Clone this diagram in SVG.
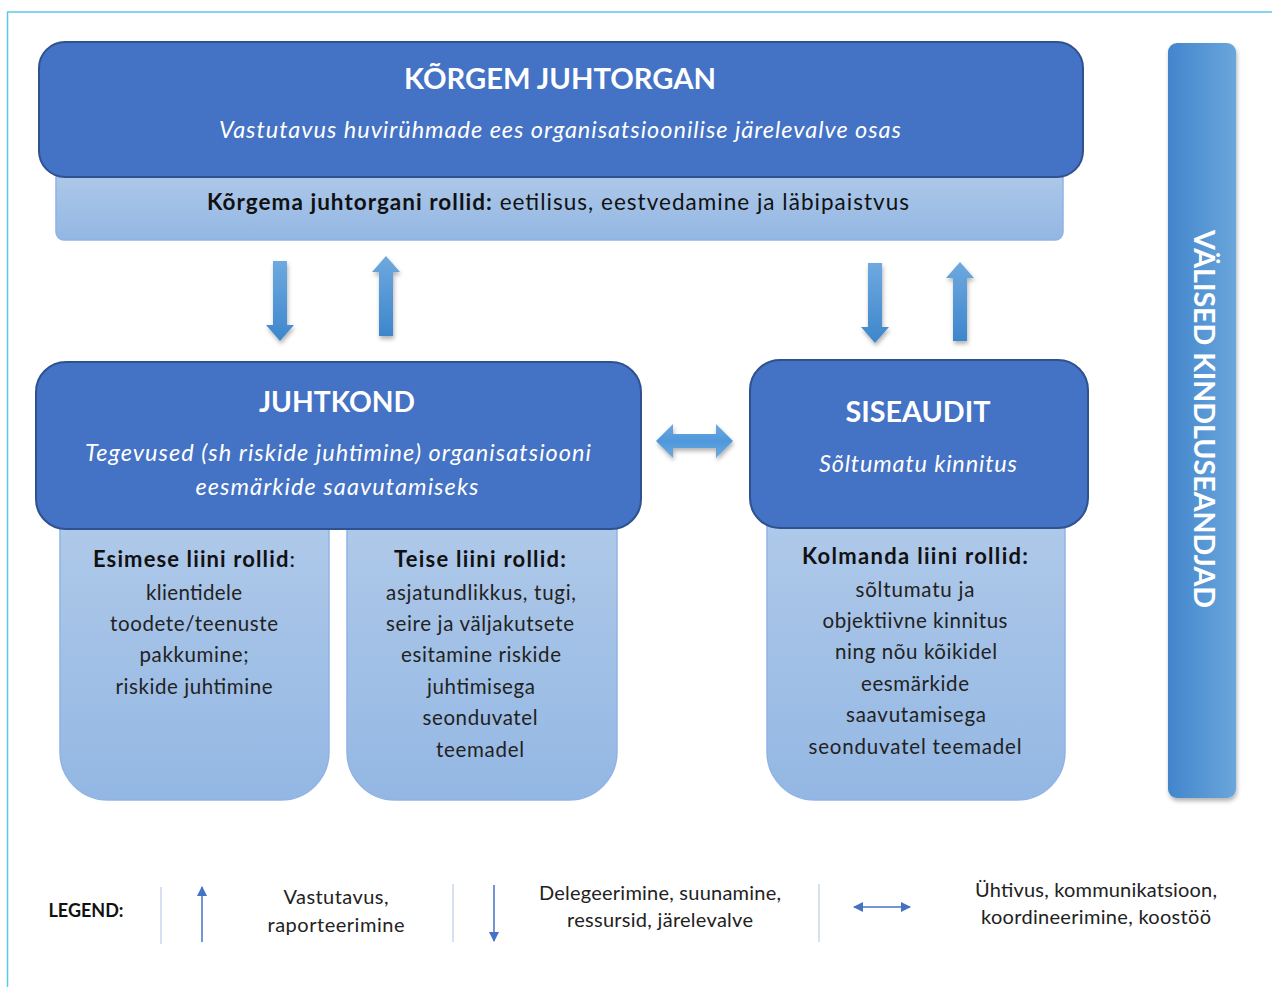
<svg xmlns="http://www.w3.org/2000/svg" width="1272" height="987" viewBox="0 0 1272 987">
<style>
text{font-family:Lato,"Open Sans","Liberation Sans",sans-serif;text-anchor:middle}
.dark{fill:#4472c4;stroke:#2f528f;stroke-width:2}
.card{fill:url(#cardG);stroke:#8fb4e3;stroke-width:1.5}
.h{font-size:28px;font-weight:bold;fill:#fff}
.it{font-size:23.5px;font-style:italic;fill:#fff}
.ch{font-size:22px;font-weight:bold;fill:#111}
.ct{font-size:20.5px;fill:#222}
.lg{font-size:20px;fill:#222}
.sep{stroke:#c9d6ea;stroke-width:1.5}
.bigArrow{fill:url(#arrG);filter:url(#sh)}
</style>
<defs>
<linearGradient id="cardG" x1="0" y1="0" x2="0" y2="1"><stop offset="0" stop-color="#afc9e9"/><stop offset="1" stop-color="#93b7e3"/></linearGradient>
<linearGradient id="arrG" x1="0" y1="0" x2="0" y2="1"><stop offset="0" stop-color="#6ea9df"/><stop offset="1" stop-color="#3d86cc"/></linearGradient>
<linearGradient id="arrH" x1="0" y1="0" x2="0" y2="1"><stop offset="0" stop-color="#6ea9df"/><stop offset="0.5" stop-color="#4e98db"/><stop offset="1" stop-color="#6ea9df"/></linearGradient>
<linearGradient id="barG" x1="0" y1="0" x2="1" y2="0"><stop offset="0" stop-color="#4285cc"/><stop offset="1" stop-color="#6aa6dc"/></linearGradient>
<filter id="sh" x="-30%" y="-10%" width="160%" height="130%"><feDropShadow dx="1" dy="3" stdDeviation="2" flood-color="#000" flood-opacity="0.3"/></filter>
<marker id="mh" viewBox="0 0 10 10" refX="9" refY="5" markerWidth="10" markerHeight="10" markerUnits="userSpaceOnUse" orient="auto-start-reverse"><path d="M0,0 L10,5 L0,10 z" fill="#4472c4"/></marker>
</defs>

<g id="frame">
<line x1="7" y1="12" x2="1272" y2="12" stroke="#5bc8f0" stroke-width="1.5"/>
<line x1="7.5" y1="12" x2="7.5" y2="987" stroke="#5bc8f0" stroke-width="1.5"/>
</g>

<g id="korgem">
<rect x="56" y="170" width="1007" height="70" rx="8" class="card"/>
<rect x="39" y="42" width="1044" height="135" rx="26" class="dark"/>
<text x="560" y="89" class="h" textLength="312" lengthAdjust="spacingAndGlyphs">KÕRGEM JUHTORGAN</text>
<text x="560" y="138" class="it" textLength="682" lengthAdjust="spacing">Vastutavus  huvirühmade  ees organisatsioonilise  järelevalve osas</text>
<text x="558" y="210" style="font-size:22.5px;fill:#111" textLength="702" lengthAdjust="spacing"><tspan font-weight="bold">Kõrgema juhtorgani rollid:</tspan> eetilisus, eestvedamine ja läbipaistvus</text>
</g>

<g id="valised">
<rect x="1168" y="43" width="68" height="755" rx="9" fill="url(#barG)" filter="url(#sh)"/>
<text transform="translate(1194,419) rotate(90)" style="font-size:28px;font-weight:bold;fill:#fff" textLength="378" lengthAdjust="spacingAndGlyphs">VÄLISED KINDLUSEANDJAD</text>
</g>

<g id="esimese">
<path d="M60,520 H329 V752 A48,48 0 0 1 281,800 H108 A48,48 0 0 1 60,752 Z" class="card"/>
<text x="194" y="567" class="ch" textLength="202" lengthAdjust="spacing">Esimese liini rollid<tspan font-weight="normal">:</tspan></text>
<text x="194" y="600" class="ct" textLength="96" lengthAdjust="spacing">klientidele</text>
<text x="194" y="631" class="ct" textLength="168" lengthAdjust="spacing">toodete/teenuste</text>
<text x="194" y="662" class="ct" textLength="109" lengthAdjust="spacing">pakkumine;</text>
<text x="194" y="694" class="ct" textLength="157" lengthAdjust="spacing">riskide  juhtimine</text>
</g>

<g id="teise">
<path d="M347,520 H617 V752 A48,48 0 0 1 569,800 H395 A48,48 0 0 1 347,752 Z" class="card"/>
<text x="480" y="567" class="ch" textLength="172" lengthAdjust="spacing">Teise liini rollid:</text>
<text x="481" y="600" class="ct" textLength="190" lengthAdjust="spacing">asjatundlikkus,  tugi,</text>
<text x="480" y="631" class="ct" textLength="188" lengthAdjust="spacing">seire ja väljakutsete</text>
<text x="481" y="662" class="ct" textLength="160" lengthAdjust="spacing">esitamine  riskide</text>
<text x="481" y="694" class="ct" textLength="108" lengthAdjust="spacing">juhtimisega</text>
<text x="480" y="725" class="ct" textLength="115" lengthAdjust="spacing">seonduvatel</text>
<text x="480" y="757" class="ct" textLength="88" lengthAdjust="spacing">teemadel</text>
</g>

<g id="kolmanda">
<path d="M767,520 H1065 V752 A48,48 0 0 1 1017,800 H815 A48,48 0 0 1 767,752 Z" class="card"/>
<text x="915" y="564" class="ch" textLength="226" lengthAdjust="spacing">Kolmanda liini rollid:</text>
<text x="915" y="597" class="ct" textLength="119" lengthAdjust="spacing">sõltumatu ja</text>
<text x="915" y="628" class="ct" textLength="185" lengthAdjust="spacing">objektiivne  kinnitus</text>
<text x="916" y="659" class="ct" textLength="162" lengthAdjust="spacing">ning nõu kõikidel</text>
<text x="915" y="691" class="ct" textLength="108" lengthAdjust="spacing">eesmärkide</text>
<text x="916" y="722" class="ct" textLength="140" lengthAdjust="spacing">saavutamisega</text>
<text x="915" y="754" class="ct" textLength="213" lengthAdjust="spacing">seonduvatel  teemadel</text>
</g>

<g id="juhtkond">
<rect x="36" y="362" width="605" height="167" rx="30" class="dark"/>
<text x="337" y="412" class="h" textLength="156" lengthAdjust="spacingAndGlyphs">JUHTKOND</text>
<text x="338" y="461" class="it" textLength="506" lengthAdjust="spacing">Tegevused (sh riskide juhtimine) organisatsiooni</text>
<text x="337" y="495" class="it" textLength="283" lengthAdjust="spacing">eesmärkide saavutamiseks</text>
</g>

<g id="siseaudit">
<rect x="750" y="360" width="338" height="168" rx="30" class="dark"/>
<text x="918" y="422" class="h" textLength="145" lengthAdjust="spacingAndGlyphs">SISEAUDIT</text>
<text x="918" y="472" class="it" textLength="198" lengthAdjust="spacing">Sõltumatu kinnitus</text>
</g>

<g id="connectors">
<path d="M273,261 H287 V325 H294 L280,341 L266,325 H273 Z" class="bigArrow"/>
<path d="M379,336 H393 V272 H400 L386,256 L372,272 H379 Z" class="bigArrow"/>
<path d="M868,263 H882 V327 H889 L875,343 L861,327 H868 Z" class="bigArrow"/>
<path d="M953,341 H967 V278 H974 L960,262 L946,278 H953 Z" class="bigArrow"/>
<path d="M656,441 L673,424 V434 H716 V424 L733,441 L716,458 V448 H673 V458 Z" fill="url(#arrH)" filter="url(#sh)"/>
</g>

<g id="legend">
<text x="86" y="917" style="font-size:18px;font-weight:bold;fill:#111">LEGEND:</text>
<line x1="161" y1="887" x2="161" y2="944" class="sep"/>
<line x1="453" y1="884" x2="453" y2="942" class="sep"/>
<line x1="819" y1="884" x2="819" y2="942" class="sep"/>
<line x1="202" y1="942" x2="202" y2="887" stroke="#4472c4" stroke-width="1.5" marker-end="url(#mh)"/>
<line x1="494" y1="885" x2="494" y2="941" stroke="#4472c4" stroke-width="1.5" marker-end="url(#mh)"/>
<line x1="854" y1="907" x2="910" y2="907" stroke="#4472c4" stroke-width="1.5" marker-start="url(#mh)" marker-end="url(#mh)"/>
<text x="336" y="904" class="lg" textLength="105" lengthAdjust="spacing">Vastutavus,</text>
<text x="336" y="932" class="lg" textLength="137" lengthAdjust="spacing">raporteerimine</text>
<text x="660" y="900" class="lg" textLength="242" lengthAdjust="spacing">Delegeerimine, suunamine,</text>
<text x="660" y="927" class="lg" textLength="186" lengthAdjust="spacing">ressursid, järelevalve</text>
<text x="1096" y="897" class="lg" textLength="242" lengthAdjust="spacing">Ühtivus, kommunikatsioon,</text>
<text x="1096" y="924" class="lg" textLength="230" lengthAdjust="spacing">koordineerimine, koostöö</text>
</g>
</svg>
